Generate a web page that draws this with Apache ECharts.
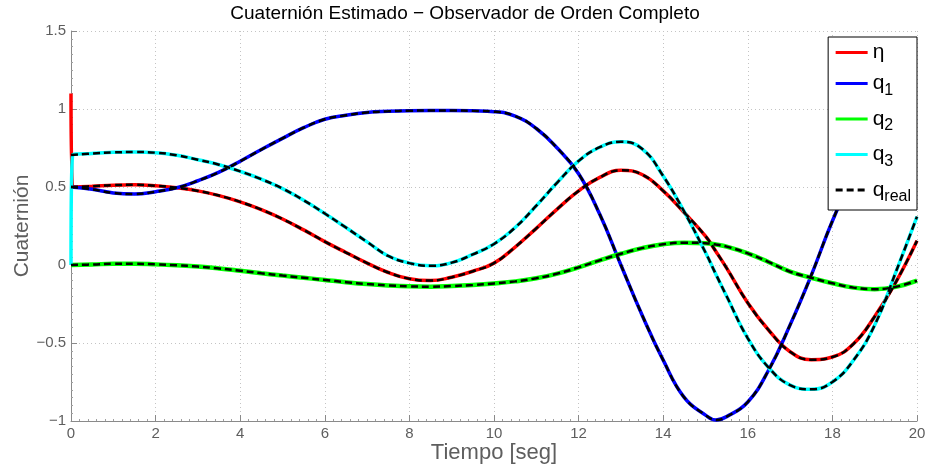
<!DOCTYPE html>
<html>
<head>
<meta charset="utf-8">
<script src="https://cdn.jsdelivr.net/npm/echarts@6/dist/echarts.min.js"></script>
<style>
  html, body { margin: 0; padding: 0; background: #fff; }
  #chart { width: 930px; height: 472px; }
</style>
</head>
<body>
<div id="chart"></div>
<script>
// Time base (s)
const tiempo = [0, 0.5, 1, 1.5, 2, 2.5, 3, 3.5, 4, 4.5, 5, 5.5, 6, 6.5, 7, 7.5, 8, 8.5, 9, 9.5,
  10, 10.5, 11, 11.5, 12, 12.5, 13, 13.5, 14, 14.5, 15, 15.25, 15.5, 16, 16.5, 17, 17.5, 18, 18.5, 19, 19.5, 20];

// Quaternion components (real attitude)
const etaReal = [0.500, 0.505, 0.512, 0.514, 0.508, 0.495, 0.475, 0.445, 0.405, 0.355, 0.295, 0.225,
  0.150, 0.080, 0.012, -0.048, -0.088, -0.100, -0.078, -0.040, 0.012, 0.115, 0.235, 0.360, 0.475,
  0.562, 0.607, 0.580, 0.475, 0.335, 0.185, 0.085, -0.020, -0.243, -0.420, -0.556, -0.607, -0.590, -0.505,
  -0.330, -0.110, 0.155];
const q1Real = [0.500, 0.485, 0.462, 0.455, 0.470, 0.495, 0.540, 0.595, 0.665, 0.740, 0.812, 0.880,
  0.934, 0.960, 0.978, 0.985, 0.989, 0.990, 0.990, 0.988, 0.983, 0.955, 0.875, 0.748, 0.585, 0.325,
  0.000, -0.320, -0.610, -0.850, -0.962, -0.993, -0.972, -0.878, -0.670, -0.384, -0.066, 0.282, 0.575, 0.780,
  0.900, 0.935];
const q2Real = [0.000, 0.003, 0.008, 0.008, 0.004, -0.002, -0.010, -0.022, -0.037, -0.053, -0.068,
  -0.082, -0.096, -0.110, -0.122, -0.131, -0.137, -0.139, -0.135, -0.128, -0.118, -0.105, -0.085,
  -0.055, -0.015, 0.030, 0.072, 0.108, 0.133, 0.143, 0.140, 0.131, 0.118, 0.075, 0.018, -0.043, -0.082,
  -0.117, -0.145, -0.155, -0.140, -0.100];
const q3Real = [0.705, 0.715, 0.722, 0.724, 0.720, 0.703, 0.675, 0.643, 0.600, 0.550, 0.490, 0.415,
  0.330, 0.240, 0.148, 0.058, 0.012, -0.005, 0.015, 0.068, 0.135, 0.240, 0.380, 0.530, 0.667, 0.755,
  0.790, 0.745, 0.570, 0.340, 0.080, -0.062, -0.200, -0.470, -0.660, -0.770, -0.797, -0.750, -0.610, -0.385,
  -0.045, 0.310];

// Observer initial estimates and the time at which they converge
const tInicial = [0, 0.04];
const etaInicial = [1.1, 0.5];
const q3Inicial = [0.0, 0.705];

// Tick labels
const xTicks = ['0', '2', '4', '6', '8', '10', '12', '14', '16', '18', '20'];
const yTicks = ['-1', '-0.5', '0', '0.5', '1', '1.5'];

function pares(t, v) { return t.map((x, i) => [x, v[i]]); }
function estimado(real, ini) {
  // estimate = initial transient followed by the tracked trajectory
  if (!ini) return pares(tiempo, real);
  return pares(tInicial, ini).concat(pares(tiempo.slice(1), real.slice(1)));
}

const FONT = '"Liberation Sans", Arial, Helvetica, sans-serif';
const GRAY = '#5e5e5e';

function lineaEst(name, data, color, w) {
  return { name, type: 'line', data, smooth: 0.45, showSymbol: false,
    symbol: 'none', lineStyle: { color, width: w }, itemStyle: { color }, z: 2, animation: false };
}
function lineaReal(data) {
  return { name: 'qreal', type: 'line', data: pares(tiempo, data), smooth: 0.45,
    symbol: 'none', showSymbol: false, lineStyle: { color: '#000', width: 2.5, type: [7, 4] },
    itemStyle: { color: '#000' }, z: 3, animation: false };
}

const legendLabels = { 'η': '{m|η}', 'q1': '{m|q}{s|1}', 'q2': '{m|q}{s|2}', 'q3': '{m|q}{s|3}', 'qreal': '{m|q}{s|real}' };

const chart = echarts.init(document.getElementById('chart'), null, { renderer: 'canvas' });
chart.setOption({
  backgroundColor: '#fff',
  animation: false,
  title: {
    text: 'Cuaternión Estimado − Observador de Orden Completo',
    left: 'center', top: -1,
    textStyle: { fontFamily: FONT, fontSize: 19, fontWeight: 'normal', color: '#000' }
  },
  grid: { left: 71, right: 13, top: 31, bottom: 51, containLabel: false, outerBoundsMode: 'none' },
  legend: {
    data: ['η', 'q1', 'q2', 'q3', 'qreal'],
    orient: 'vertical', right: 13, top: 37,
    backgroundColor: '#fff', borderColor: '#000', borderWidth: 1,
    padding: [5, 6, 5, 6], itemGap: 10, itemWidth: 32, itemHeight: 12,
    itemStyle: { opacity: 0 },
    lineStyle: { width: 3 },
    formatter: n => legendLabels[n],
    textStyle: {
      fontFamily: FONT, color: '#000',
      rich: {
        m: { fontFamily: FONT, fontSize: 21, color: '#000' },
        s: { fontFamily: FONT, fontSize: 16, color: '#000', padding: [14, 0, 0, 0] }
      }
    }
  },
  xAxis: {
    type: 'value', min: 0, max: 20, interval: 2,
    name: 'Tiempo [seg]', nameLocation: 'middle', nameGap: 21, nameMoveOverlap: false,
    nameTextStyle: { fontFamily: FONT, fontSize: 22, color: GRAY },
    axisLine: { onZero: false, lineStyle: { color: '#8a8a8a', width: 1 } },
    axisTick: { inside: true, length: 6, lineStyle: { color: '#8a8a8a' } },
    minorTick: { show: true, splitNumber: 10, length: 2, lineStyle: { color: '#a0a0a0' } },
    axisLabel: { fontFamily: FONT, fontSize: 15, color: GRAY, margin: 5,
      formatter: v => xTicks[Math.round(v / 2)] },
    splitLine: { show: true, lineStyle: { color: '#c4c4c4', type: [1, 3], width: 1 } }
  },
  yAxis: {
    type: 'value', min: -1, max: 1.5, interval: 0.5,
    name: 'Cuaternión', nameLocation: 'middle', nameGap: 38, nameRotate: 90, nameMoveOverlap: false,
    nameTextStyle: { fontFamily: FONT, fontSize: 21, color: GRAY },
    axisLine: { show: true, onZero: false, lineStyle: { color: '#8a8a8a', width: 1 } },
    axisTick: { show: true, inside: true, length: 6, lineStyle: { color: '#8a8a8a' } },
    minorTick: { show: true, splitNumber: 10, length: 2, lineStyle: { color: '#a0a0a0' } },
    axisLabel: { fontFamily: FONT, fontSize: 15, color: GRAY, margin: 5,
      formatter: v => yTicks[Math.round((v + 1) / 0.5)].replace('-', '\u2212') },
    splitLine: { show: true, lineStyle: { color: '#c4c4c4', type: [1, 3], width: 1 } }
  },
  series: [
    lineaEst('η', estimado(etaReal, etaInicial), '#ff0000', 3.5),
    lineaEst('q1', estimado(q1Real), '#0000ff', 3.5),
    lineaEst('q2', estimado(q2Real), '#00ff00', 4.5),
    lineaEst('q3', estimado(q3Real, q3Inicial), '#00ffff', 3.5),
    lineaReal(etaReal),
    lineaReal(q1Real),
    lineaReal(q2Real),
    lineaReal(q3Real)
  ]
});
</script>
</body>
</html>
